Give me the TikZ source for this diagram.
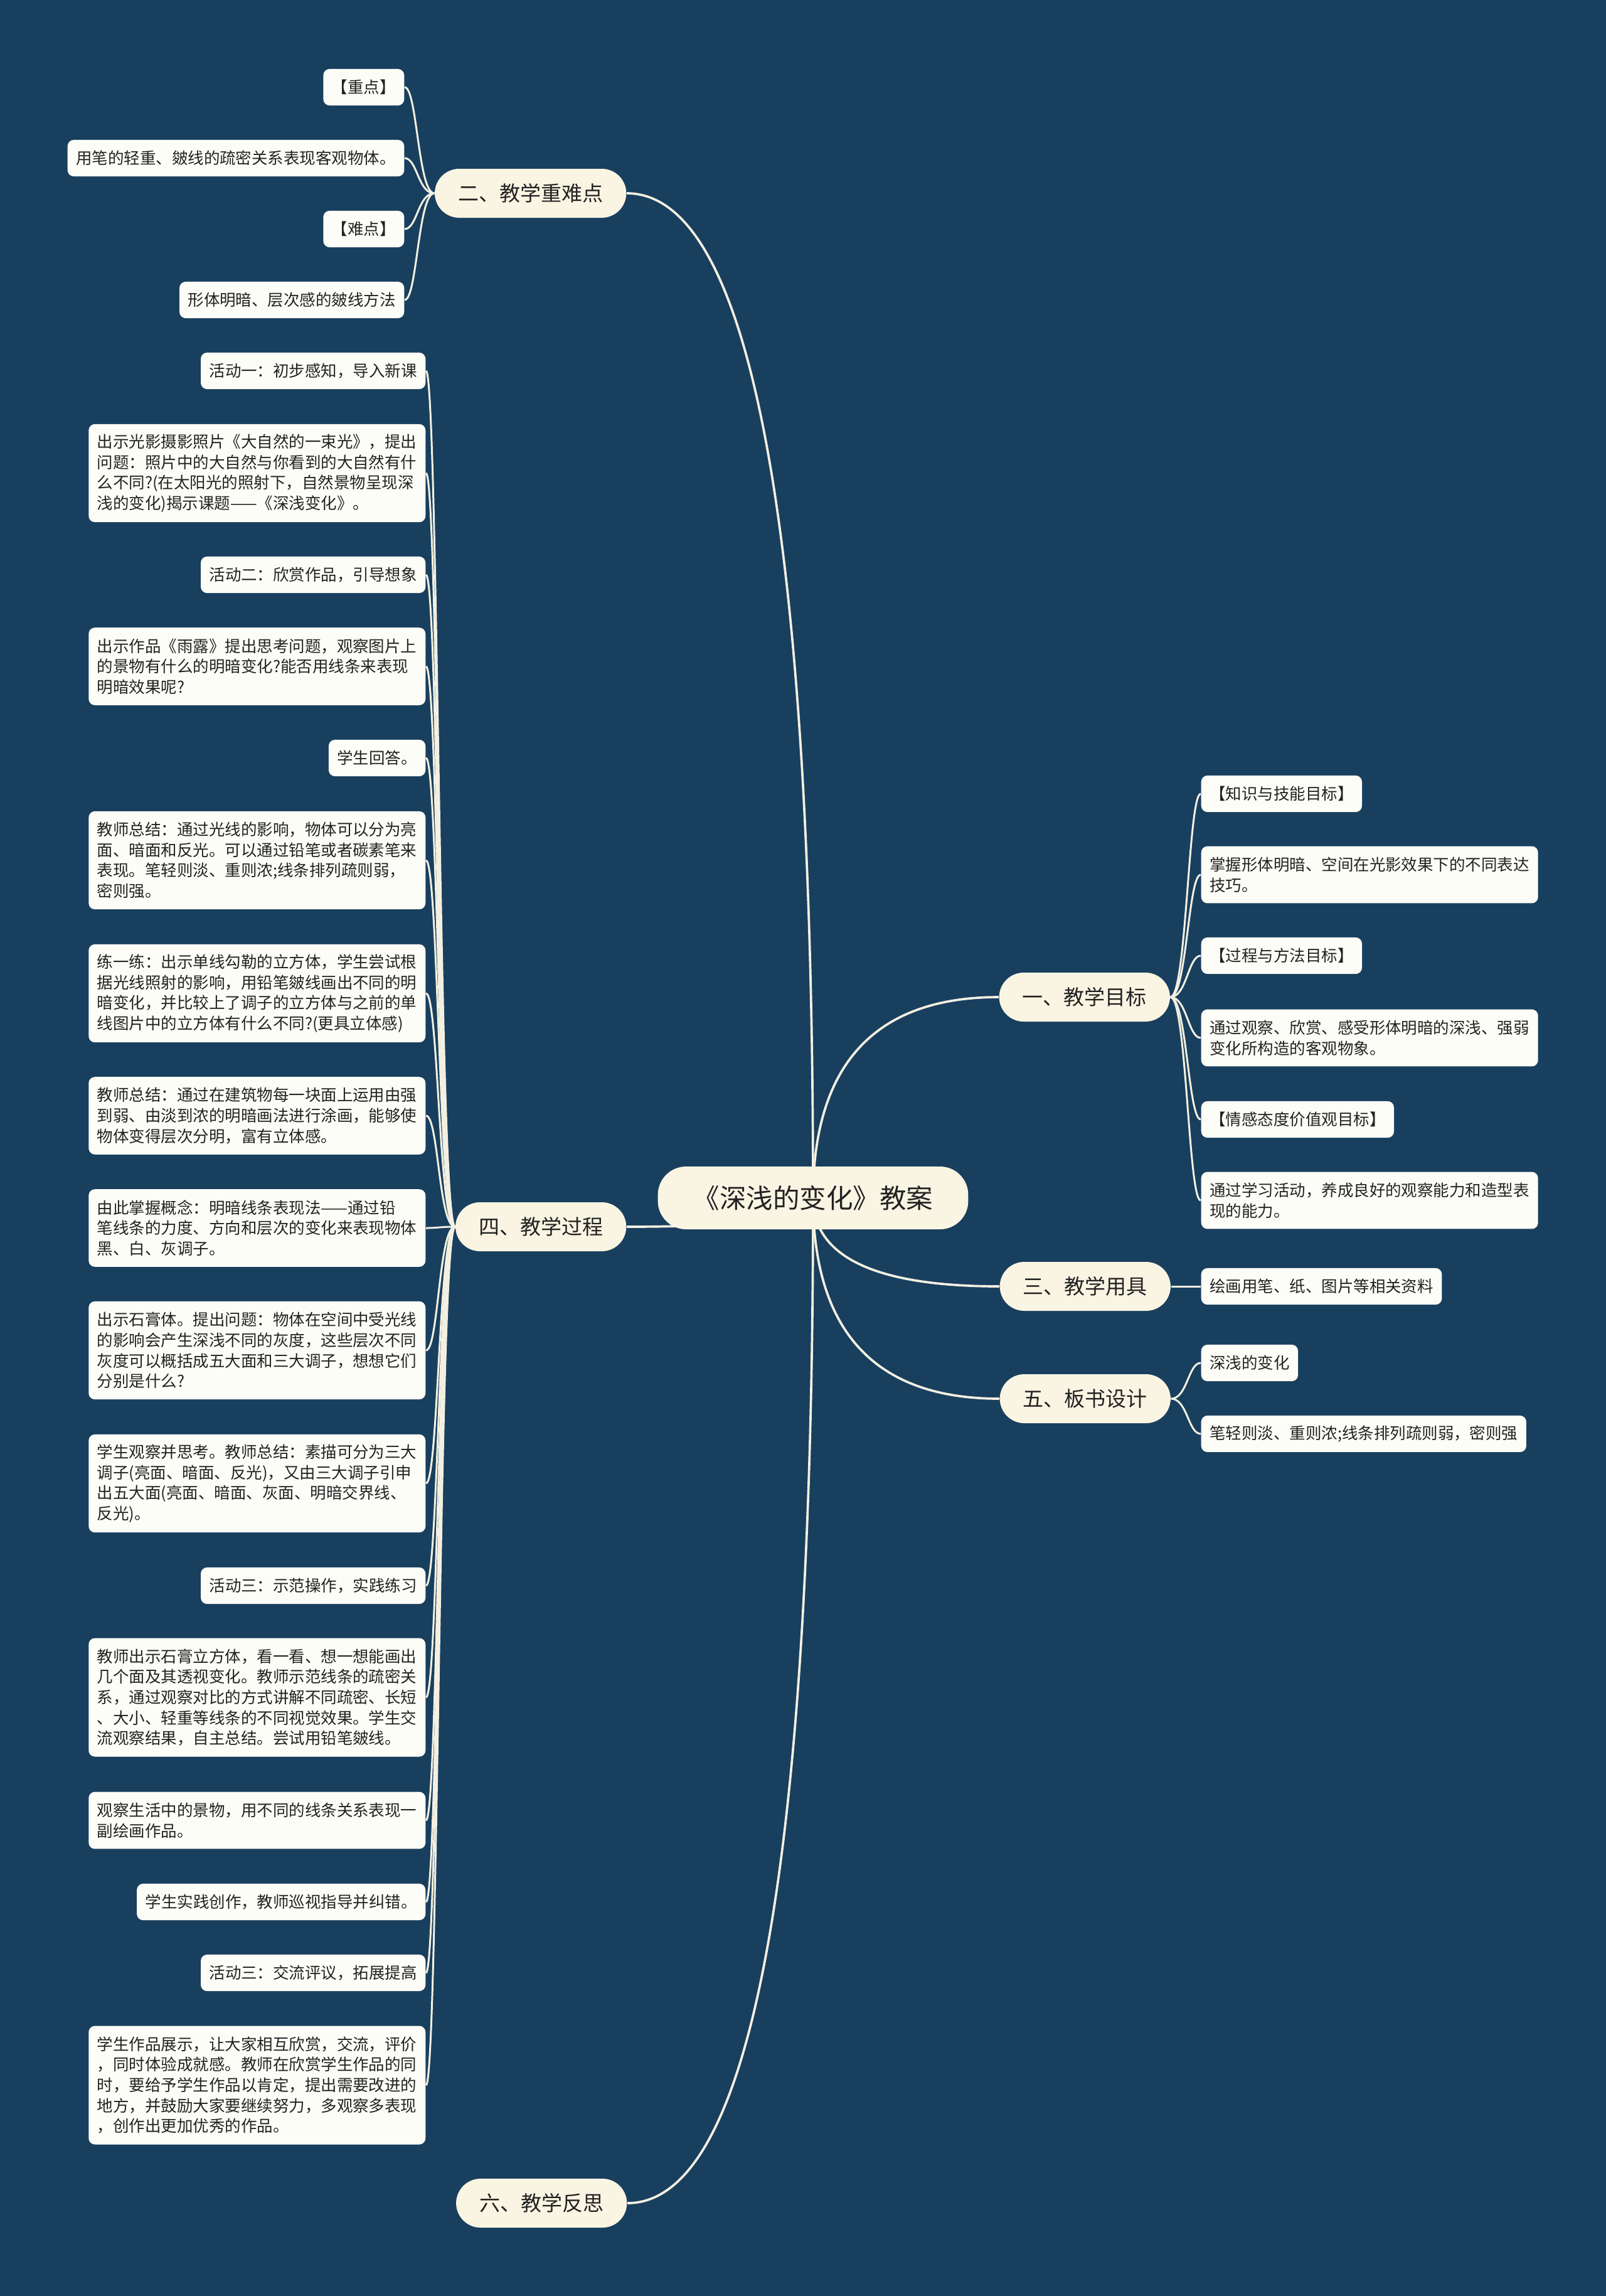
\documentclass[tikz,border=0pt]{standalone}
\usepackage{fontspec}
\setmainfont{Noto Sans CJK SC}
\usetikzlibrary{positioning, backgrounds}

\definecolor{navy}{HTML}{193F5E}
\definecolor{cream}{HTML}{FAF5E3}
\definecolor{paper}{HTML}{FDFDF7}
\definecolor{wire}{HTML}{F3F0E2}
\definecolor{ink}{HTML}{222222}

\begin{document}
\begin{tikzpicture}[
  root/.style={fill=cream, rounded corners=0.45cm, minimum height=1.0cm,
               inner xsep=0.56cm, text=ink, font=\fontsize{12.1}{14}\selectfont},
  topic/.style={fill=cream, rounded corners=0.39cm, minimum height=0.78cm,
                inner xsep=0.37cm, text=ink, font=\fontsize{9.4}{11}\selectfont},
  leaf/.style={fill=paper, rounded corners=0.1cm, inner xsep=0.135cm, inner ysep=0pt,
               minimum height=0.255cm+0.327cm*#1, align=left, text=ink,
               font=\fontsize{7.25}{9.27}\selectfont},
  leaf/.default=1,
  wide/.style={text width=5.1cm},
  branch/.style={draw=wire, line width=1.05pt},
  twig/.style={draw=wire, line width=0.85pt}
]
  \useasboundingbox (0,0) rectangle (25.60,-36.59);
  \begin{pgfonlayer}{background}
    \fill[navy] (0,0) rectangle (25.60,-36.59);
  \end{pgfonlayer}

  % centre and main topics
  \node[root]                (root)  at (12.96,-19.09) {《深浅的变化》教案};
  \node[topic, anchor=west]  (goal)  at (15.92,-15.89) {一、教学目标};
  \node[topic, anchor=east]  (keys)  at (9.99,-3.08)   {二、教学重难点};
  \node[topic, anchor=west]  (tools) at (15.93,-20.50) {三、教学用具};
  \node[topic, anchor=east]  (proc)  at (9.99,-19.55)  {四、教学过程};
  \node[topic, anchor=west]  (board) at (15.93,-22.29) {五、板书设计};
  \node[topic, anchor=east]  (refl)  at (10.00,-35.11) {六、教学反思};

  % 一
  \node[leaf, anchor=west]          (g1) at (19.14,-12.65) {【知识与技能目标】};
  \node[leaf=2, wide, anchor=west]  (g2) at (19.14,-13.94) {掌握形体明暗、空间在光影效果下的不同表达\\技巧。};
  \node[leaf, anchor=west]          (g3) at (19.14,-15.23) {【过程与方法目标】};
  \node[leaf=2, wide, anchor=west]  (g4) at (19.14,-16.54) {通过观察、欣赏、感受形体明暗的深浅、强弱\\变化所构造的客观物象。};
  \node[leaf, anchor=west]          (g5) at (19.14,-17.84) {【情感态度价值观目标】};
  \node[leaf=2, wide, anchor=west]  (g6) at (19.14,-19.13) {通过学习活动，养成良好的观察能力和造型表\\现的能力。};

  % 二
  \node[leaf, anchor=east] (k1) at (6.45,-1.39) {【重点】};
  \node[leaf, anchor=east] (k2) at (6.45,-2.52) {用笔的轻重、皴线的疏密关系表现客观物体。};
  \node[leaf, anchor=east] (k3) at (6.45,-3.65) {【难点】};
  \node[leaf, anchor=east] (k4) at (6.45,-4.78) {形体明暗、层次感的皴线方法};

  % 三 and 五
  \node[leaf, anchor=west] (t1) at (19.14,-20.50) {绘画用笔、纸、图片等相关资料};
  \node[leaf, anchor=west] (d1) at (19.14,-21.72) {深浅的变化};
  \node[leaf, anchor=west] (d2) at (19.14,-22.85) {笔轻则淡、重则浓;线条排列疏则弱，密则强};

  % 四
  \node[leaf, anchor=east]         (p1)  at (6.79,-5.91)  {活动一：初步感知，导入新课};
  \node[leaf=4, wide, anchor=east] (p2)  at (6.79,-7.54)  {出示光影摄影照片《大自然的一束光》，提出\\问题：照片中的大自然与你看到的大自然有什\\么不同?(在太阳光的照射下，自然景物呈现深\\浅的变化)揭示课题——《深浅变化》。};
  \node[leaf, anchor=east]         (p3)  at (6.79,-9.16)  {活动二：欣赏作品，引导想象};
  \node[leaf=3, wide, anchor=east] (p4)  at (6.79,-10.62) {出示作品《雨露》提出思考问题，观察图片上\\的景物有什么的明暗变化?能否用线条来表现\\明暗效果呢?};
  \node[leaf, anchor=east]         (p5)  at (6.79,-12.08) {学生回答。};
  \node[leaf=4, wide, anchor=east] (p6)  at (6.79,-13.71) {教师总结：通过光线的影响，物体可以分为亮\\面、暗面和反光。可以通过铅笔或者碳素笔来\\表现。笔轻则淡、重则浓;线条排列疏则弱，\\密则强。};
  \node[leaf=4, wide, anchor=east] (p7)  at (6.79,-15.83) {练一练：出示单线勾勒的立方体，学生尝试根\\据光线照射的影响，用铅笔皴线画出不同的明\\暗变化，并比较上了调子的立方体与之前的单\\线图片中的立方体有什么不同?(更具立体感)};
  \node[leaf=3, wide, anchor=east] (p8)  at (6.79,-17.78) {教师总结：通过在建筑物每一块面上运用由强\\到弱、由淡到浓的明暗画法进行涂画，能够使\\物体变得层次分明，富有立体感。};
  \node[leaf=3, wide, anchor=east] (p9)  at (6.79,-19.57) {由此掌握概念：明暗线条表现法——通过铅\\笔线条的力度、方向和层次的变化来表现物体\\黑、白、灰调子。};
  \node[leaf=4, wide, anchor=east] (p10) at (6.79,-21.52) {出示石膏体。提出问题：物体在空间中受光线\\的影响会产生深浅不同的灰度，这些层次不同\\灰度可以概括成五大面和三大调子，想想它们\\分别是什么?};
  \node[leaf=4, wide, anchor=east] (p11) at (6.79,-23.64) {学生观察并思考。教师总结：素描可分为三大\\调子(亮面、暗面、反光)，又由三大调子引申\\出五大面(亮面、暗面、灰面、明暗交界线、\\反光)。};
  \node[leaf, anchor=east]         (p12) at (6.79,-25.27) {活动三：示范操作，实践练习};
  \node[leaf=5, wide, anchor=east] (p13) at (6.79,-27.05) {教师出示石膏立方体，看一看、想一想能画出\\几个面及其透视变化。教师示范线条的疏密关\\系，通过观察对比的方式讲解不同疏密、长短\\、大小、轻重等线条的不同视觉效果。学生交\\流观察结果，自主总结。尝试用铅笔皴线。};
  \node[leaf=2, wide, anchor=east] (p14) at (6.79,-29.01) {观察生活中的景物，用不同的线条关系表现一\\副绘画作品。};
  \node[leaf, anchor=east]         (p15) at (6.79,-30.31) {学生实践创作，教师巡视指导并纠错。};
  \node[leaf, anchor=east]         (p16) at (6.79,-31.44) {活动三：交流评议，拓展提高};
  \node[leaf=5, wide, anchor=east] (p17) at (6.79,-33.23) {学生作品展示，让大家相互欣赏，交流，评价\\，同时体验成就感。教师在欣赏学生作品的同\\时，要给予学生作品以肯定，提出需要改进的\\地方，并鼓励大家要继续努力，多观察多表现\\，创作出更加优秀的作品。};

  \begin{pgfonlayer}{background}
    % root to topics
    \draw[branch] (root.center) .. controls +(0,2.13) and +(-1.97,0) .. (goal.west);
    \draw[branch] (root.center) .. controls +(0,10.67) and +(1.98,0) .. (keys.east);
    \draw[branch] (root.center) .. controls +(0,-0.94) and +(-1.98,0) .. (tools.west);
    \draw[branch] (root.center) .. controls +(0,-0.31) and +(1.98,0) .. (proc.east);
    \draw[branch] (root.center) .. controls +(0,-2.13) and +(-1.98,0) .. (board.west);
    \draw[branch] (root.center) .. controls +(0,-10.68) and +(1.97,0) .. (refl.east);

    % topics to leaves
    \draw[twig] (goal.east) .. controls +(0.26,0) and +(-0.2,0) .. (g1.west);
    \draw[twig] (goal.east) .. controls +(0.26,0) and +(-0.2,0) .. (g2.west);
    \draw[twig] (goal.east) .. controls +(0.26,0) and +(-0.2,0) .. (g3.west);
    \draw[twig] (goal.east) .. controls +(0.26,0) and +(-0.2,0) .. (g4.west);
    \draw[twig] (goal.east) .. controls +(0.26,0) and +(-0.2,0) .. (g5.west);
    \draw[twig] (goal.east) .. controls +(0.26,0) and +(-0.2,0) .. (g6.west);

    \draw[twig] (keys.west) .. controls +(-0.26,0) and +(0.2,0) .. (k1.east);
    \draw[twig] (keys.west) .. controls +(-0.26,0) and +(0.2,0) .. (k2.east);
    \draw[twig] (keys.west) .. controls +(-0.26,0) and +(0.2,0) .. (k3.east);
    \draw[twig] (keys.west) .. controls +(-0.26,0) and +(0.2,0) .. (k4.east);

    \draw[twig] (tools.east) -- (t1.west);
    \draw[twig] (board.east) .. controls +(0.26,0) and +(-0.2,0) .. (d1.west);
    \draw[twig] (board.east) .. controls +(0.26,0) and +(-0.2,0) .. (d2.west);

    \draw[twig] (proc.west) .. controls +(-0.26,0) and +(0.2,0) .. (p1.east);
    \draw[twig] (proc.west) .. controls +(-0.26,0) and +(0.2,0) .. (p2.east);
    \draw[twig] (proc.west) .. controls +(-0.26,0) and +(0.2,0) .. (p3.east);
    \draw[twig] (proc.west) .. controls +(-0.26,0) and +(0.2,0) .. (p4.east);
    \draw[twig] (proc.west) .. controls +(-0.26,0) and +(0.2,0) .. (p5.east);
    \draw[twig] (proc.west) .. controls +(-0.26,0) and +(0.2,0) .. (p6.east);
    \draw[twig] (proc.west) .. controls +(-0.26,0) and +(0.2,0) .. (p7.east);
    \draw[twig] (proc.west) .. controls +(-0.26,0) and +(0.2,0) .. (p8.east);
    \draw[twig] (proc.west) .. controls +(-0.26,0) and +(0.2,0) .. (p9.east);
    \draw[twig] (proc.west) .. controls +(-0.26,0) and +(0.2,0) .. (p10.east);
    \draw[twig] (proc.west) .. controls +(-0.26,0) and +(0.2,0) .. (p11.east);
    \draw[twig] (proc.west) .. controls +(-0.26,0) and +(0.2,0) .. (p12.east);
    \draw[twig] (proc.west) .. controls +(-0.26,0) and +(0.2,0) .. (p13.east);
    \draw[twig] (proc.west) .. controls +(-0.26,0) and +(0.2,0) .. (p14.east);
    \draw[twig] (proc.west) .. controls +(-0.26,0) and +(0.2,0) .. (p15.east);
    \draw[twig] (proc.west) .. controls +(-0.26,0) and +(0.2,0) .. (p16.east);
    \draw[twig] (proc.west) .. controls +(-0.26,0) and +(0.2,0) .. (p17.east);
  \end{pgfonlayer}
\end{tikzpicture}
\end{document}
